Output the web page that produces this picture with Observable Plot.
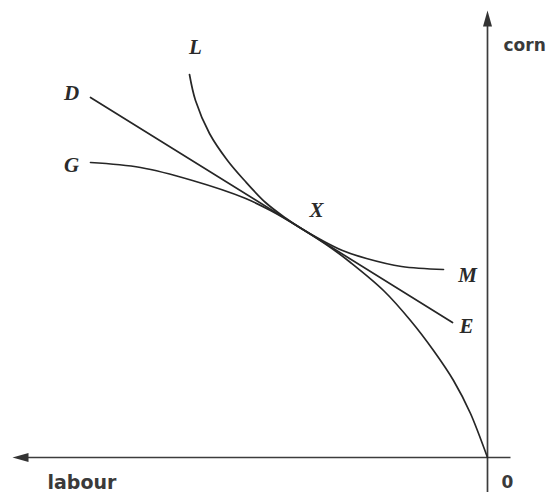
<!DOCTYPE html>
<html>
<head>
<meta charset="utf-8">
<script src="https://cdn.jsdelivr.net/npm/d3@7"></script>
<script src="https://cdn.jsdelivr.net/npm/@observablehq/plot@0.6"></script>
<style>
  html, body { margin: 0; padding: 0; background: #fff; }
  #chart svg { display: block; }
</style>
</head>
<body>
<div id="chart"></div>
<script>
// Units: labour grows to the left of the origin, corn grows upward.
const gLabour = [39.7, 34.7, 29.5, 24.3, 21.7, 18.7, 15.7, 13.7, 10.4, 7.7, 5.4, 3.4, 1.7, 0];
const gCorn   = [29.5, 29.0, 27.7, 25.95, 24.7, 22.95, 21.0, 19.5, 16.7, 13.7, 10.7, 7.7, 4.4, 0];

const lLabour = [29.8, 29.2, 27.8, 26.0, 24.3, 22.2, 20.2, 18.7, 16.7, 14.5, 12.1, 8.6, 4.4];
const lCorn   = [38.3, 35.7, 32.4, 29.7, 27.7, 25.5, 23.95, 22.95, 21.8, 20.7, 19.9, 19.1, 18.8];

const dLabour = [39.7, 3.5];
const dCorn   = [36.0, 13.5];

const curveNames   = ["L", "D", "G", "X", "M", "E"];
const curveNameLab = [29.2, 41.6, 41.6, 17.1, 2.0, 2.1];
const curveNameCrn = [41.0, 36.4, 29.2, 24.7, 18.2, 13.1];

// axis captions (baseline positions)
const cornLabel   = {t: "corn",   labour: -1.6, corn: 40.7};
const labourLabel = {t: "labour", labour: 44.0, corn: -3.1};
const zeroLabel   = {t: "0",      labour: -2.0, corn: -3.05};

// axis extents
const hAxisLabour = [47.5, -2.3];   // left arrow tip, right end
const vAxisCorn   = [-3.5, 44.7];   // bottom end, top arrow tip

const G = gLabour.map((v, i) => ({labour: v, corn: gCorn[i]}));
const L = lLabour.map((v, i) => ({labour: v, corn: lCorn[i]}));
const D = dLabour.map((v, i) => ({labour: v, corn: dCorn[i]}));
const names = curveNames.map((t, i) => ({t, labour: curveNameLab[i], corn: curveNameCrn[i]}));

const arrowHead = {
  draw(ctx) {
    ctx.moveTo(0, 0);
    ctx.lineTo(-4.5, 16);
    ctx.lineTo(4.5, 16);
    ctx.closePath();
  }
};

const ink = "#262626";
const axisInk = "#3c3c3c";
const sans = "DejaVu Sans, Verdana, sans-serif";

const chart = Plot.plot({
  width: 547,
  height: 492,
  margin: 0,
  x: {domain: [48.7, -6], axis: null},
  y: {domain: [-3.5, 45.7], axis: null},
  style: {background: "#fff", overflow: "visible"},
  marks: [
    // axes
    Plot.link([{x1: hAxisLabour[1], x2: hAxisLabour[0] - 1.0, y: 0}], {x1: "x1", x2: "x2", y1: "y", y2: "y", stroke: axisInk, strokeWidth: 1.7}),
    Plot.link([{y1: vAxisCorn[0], y2: vAxisCorn[1] - 1.0, x: 0}], {y1: "y1", y2: "y2", x1: "x", x2: "x", stroke: axisInk, strokeWidth: 1.7}),
    Plot.dot([{labour: hAxisLabour[0], corn: 0}], {x: "labour", y: "corn", symbol: arrowHead, fill: "#333", stroke: "none", rotate: -90}),
    Plot.dot([{labour: 0, corn: vAxisCorn[1]}], {x: "labour", y: "corn", symbol: arrowHead, fill: "#333", stroke: "none"}),
    // curves
    Plot.line(G, {x: "labour", y: "corn", curve: "catmull-rom", stroke: ink, strokeWidth: 1.7}),
    Plot.line(L, {x: "labour", y: "corn", curve: "catmull-rom", stroke: ink, strokeWidth: 1.7}),
    Plot.line(D, {x: "labour", y: "corn", stroke: ink, strokeWidth: 1.7}),
    // labels
    Plot.text(names, {x: "labour", y: "corn", text: "t", fontFamily: "Liberation Serif, DejaVu Serif, serif", fontStyle: "italic", fontWeight: "bold", fontSize: 21, fill: "#2a2a2a"}),
    Plot.text([cornLabel], {x: "labour", y: "corn", text: "t", textAnchor: "start", lineAnchor: "bottom", fontFamily: sans, fontWeight: "bold", fontSize: 17, fill: "#3a3a3a"}),
    Plot.text([labourLabel], {x: "labour", y: "corn", text: "t", textAnchor: "start", lineAnchor: "bottom", fontFamily: sans, fontWeight: "bold", fontSize: 19, fill: "#3a3a3a"}),
    Plot.text([zeroLabel], {x: "labour", y: "corn", text: "t", textAnchor: "middle", lineAnchor: "bottom", fontFamily: sans, fontWeight: "bold", fontSize: 17, fill: "#3a3a3a"})
  ]
});
document.getElementById("chart").appendChild(chart);
</script>
</body>
</html>
